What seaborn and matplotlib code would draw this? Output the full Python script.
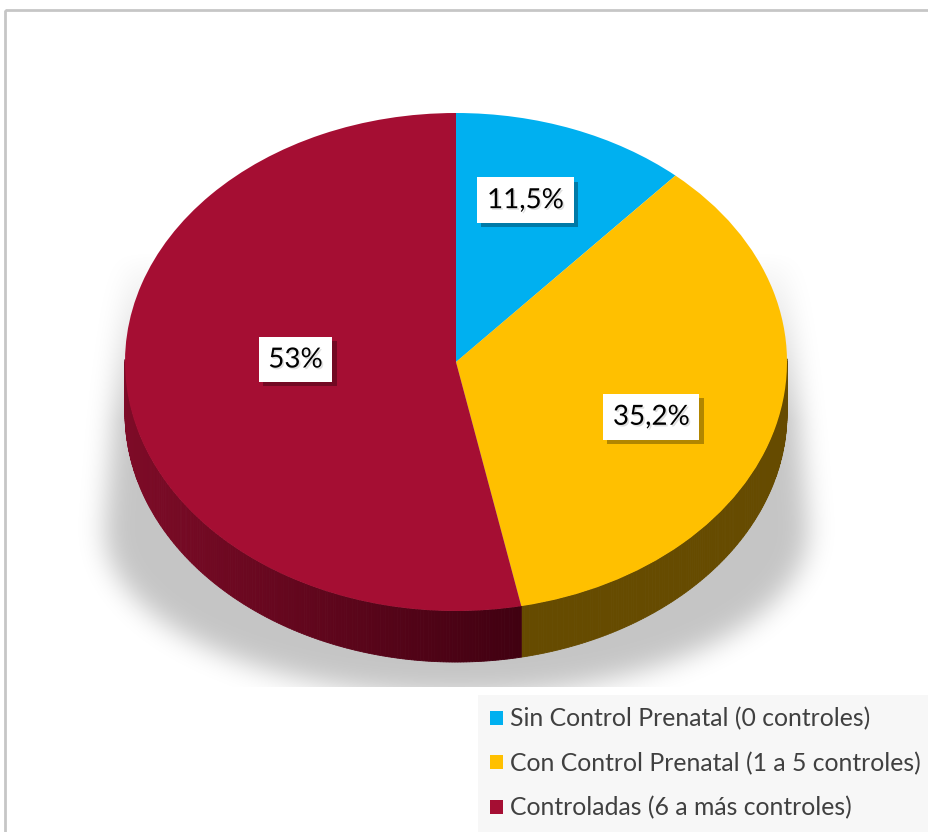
import numpy as np
import matplotlib
matplotlib.use("Agg")
import matplotlib.pyplot as plt
import matplotlib.patheffects as pe
from matplotlib.patches import Polygon, Rectangle
import seaborn as sns

# ---- data ----
categories = [
    "Sin Control Prenatal (0 controles)",
    "Con Control Prenatal (1 a 5 controles)",
    "Controladas (6 a más controles)",
]
percentages = [11.5, 35.2, 53.0]
value_labels = ["11,5%", "35,2%", "53%"]

# ---- style ----
top_colors = ["#00B0F0", "#FFC000", "#A50E33"]
side_dark = ["#005878", "#664B00", "#3E0010"]
side_light = ["#007AA6", "#664B00", "#7E0B27"]
label_xy = [(0.21, 0.65), (0.59, -0.22), (-0.485, 0.01)]  # label anchors on the pie face

sns.set_theme(style="white")
plt.rcParams["font.family"] = ["Lato", "DejaVu Sans"]

W, H = 929, 832
fig = plt.figure(figsize=(W / 100, H / 100), dpi=100)
fig.patch.set_facecolor("white")

# background layer in pixel coordinates: frame and soft shadow
bg = fig.add_axes([0, 0, 1, 1], zorder=0)
bg.set_xlim(0, W)
bg.set_ylim(H, 0)
bg.axis("off")
bg.add_patch(Rectangle((5, 10), W, H, fill=False, edgecolor="#c6c6c6", lw=2))

cx_px, cy_px = 456, 362      # pie centre in pixels
ax_px, ay_px = 331, 249      # ellipse semi-axes in pixels
depth = 0.205                # slab thickness in pie units

yy, xx = np.mgrid[0:H, 0:W].astype(float)
half = np.where(
    yy <= 530,
    330 + 22 * np.clip((yy - 260) / 270, 0, 1),
    352 * np.sqrt(np.clip(1 - ((yy - 530) / 165) ** 2, 0, 1)),
)
mask = ((np.abs(xx - cx_px) <= half) & (yy >= 240)).astype(float)
sig = 13
k = np.exp(-0.5 * (np.arange(-3 * sig, 3 * sig + 1) / sig) ** 2)
k /= k.sum()
mask = np.apply_along_axis(lambda r: np.convolve(r, k, mode="same"), 1, mask)
mask = np.apply_along_axis(lambda c: np.convolve(c, k, mode="same"), 0, mask)
mask *= np.clip((yy - 250) / 170, 0, 1)
mask[yy > 686] = 0
shadow = np.zeros((H, W, 4))
shadow[..., 3] = 0.23 * mask
bg.imshow(shadow, extent=(0, W, H, 0), interpolation="bilinear", zorder=1)

# pie axes: one data unit = ax_px horizontally, ay_px vertically
xl, yt, yb = 1.2, 1.2, 1.5
pie_ax = fig.add_axes([
    (cx_px - xl * ax_px) / W,
    (H - cy_px - yb * ay_px) / H,
    2 * xl * ax_px / W,
    (yt + yb) * ay_px / H,
], zorder=2)
pie_ax.patch.set_alpha(0)

wedges, _ = pie_ax.pie(
    percentages, colors=top_colors, startangle=90, counterclock=False,
    wedgeprops=dict(linewidth=0, zorder=3), radius=1.0,
)
pie_ax.set_aspect("auto")
pie_ax.set_xlim(-xl, xl)
pie_ax.set_ylim(-yb, yt)
pie_ax.axis("off")

# extruded side of the slab on the front half
def mix(c1, c2, t):
    a = np.array(matplotlib.colors.to_rgb(c1))
    b = np.array(matplotlib.colors.to_rgb(c2))
    return tuple(a + (b - a) * t)

for i, w in enumerate(wedges):
    t1, t2 = sorted((w.theta1, w.theta2))
    angles = np.linspace(t1, t2, max(int((t2 - t1) * 2), 2))
    for a0, a1 in zip(angles[:-1], angles[1:]):
        am = np.deg2rad(0.5 * (a0 + a1))
        if np.sin(am) >= 0.01:
            continue
        r0, r1 = np.deg2rad(a0), np.deg2rad(a1)
        # darker toward the lower-right, lighter toward the left rim
        shade = np.clip((np.cos(am) + 1) / 1.25, 0, 1)
        col = mix(side_light[i], side_dark[i], shade)
        pts = [
            (np.cos(r0), np.sin(r0)), (np.cos(r1), np.sin(r1)),
            (np.cos(r1), np.sin(r1) - depth), (np.cos(r0), np.sin(r0) - depth),
        ]
        pie_ax.add_patch(Polygon(pts, closed=True, facecolor=col,
                                 edgecolor=col, lw=0.6, zorder=2))

# value labels in white boxes with a soft drop shadow
for (lx, ly), txt in zip(label_xy, value_labels):
    t = pie_ax.text(
        lx, ly, txt, ha="center", va="center", fontsize=20, color="black",
        zorder=6,
        bbox=dict(boxstyle="square,pad=0.35", facecolor="white", edgecolor="none"),
    )
    t.get_bbox_patch().set_path_effects([
        pe.SimplePatchShadow(offset=(3, -3), shadow_rgbFace="black", alpha=0.3),
        pe.Normal(),
    ])
    t.set_path_effects([
        pe.withSimplePatchShadow(offset=(1.2, -1.2), shadow_rgbFace="black", alpha=0.12),
    ])

# legend
leg = fig.legend(
    wedges, categories, loc="upper left",
    bbox_to_anchor=(478 / W, (H - 695) / H), frameon=True, fancybox=False,
    fontsize=17.8, handlelength=0.5, handleheight=0.5, handletextpad=0.3,
    labelspacing=0.86, borderpad=0.5, borderaxespad=0,
    labelcolor="#404040",
)
leg.get_frame().set_facecolor("#f5f5f5")
leg.get_frame().set_edgecolor("none")

fig.savefig("out.png", dpi=100, facecolor="white")
